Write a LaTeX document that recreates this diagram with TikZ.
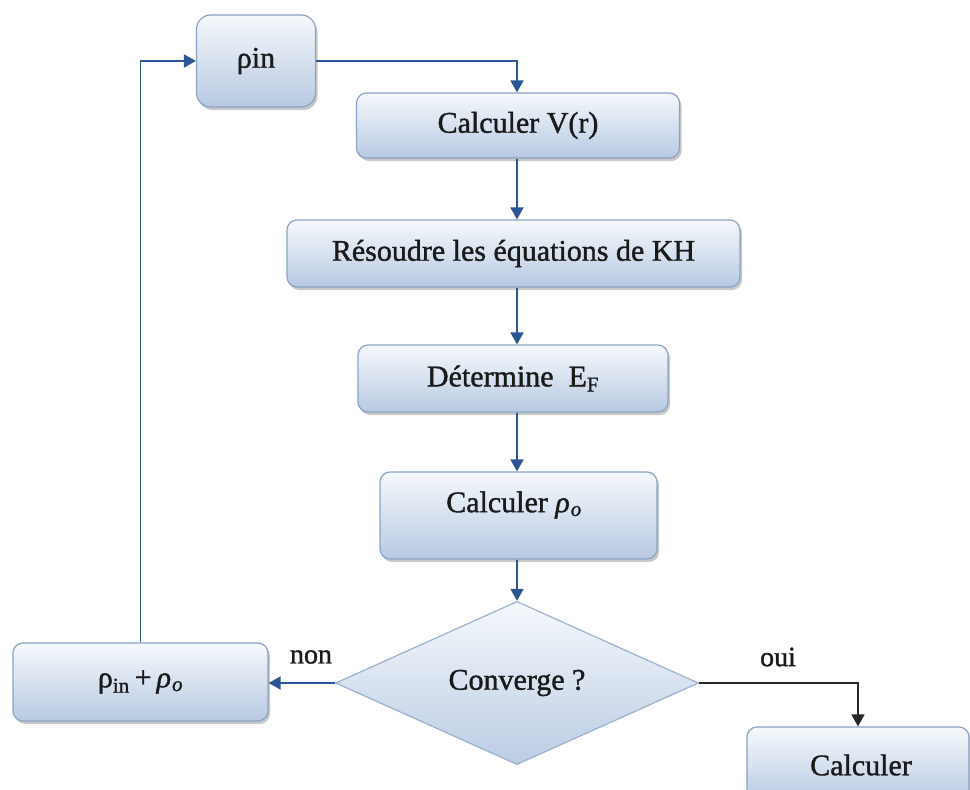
\documentclass[tikz,border=0pt]{standalone}
\usepackage{fontspec}
\setmainfont{Liberation Serif}
\newfontfamily\heavyserif{Liberation Serif}[FakeBold=1.2]
\usetikzlibrary{shapes.geometric,shadows,arrows.meta}

\definecolor{boxtop}{HTML}{F6F9FC}
\definecolor{boxbot}{HTML}{B7C9E2}
\definecolor{boxline}{HTML}{8BA3C4}
\definecolor{flow}{HTML}{2A5794}
\definecolor{ink}{HTML}{1A1A1A}

% italic rho with a subscript o
\newcommand{\rhoout}{\textit{ρ}\kern1pt\textsubscript{\textit{o}}}

\tikzset{
  stepbox/.style={rectangle, rounded corners=10pt, draw=boxline, line width=1.2pt,
    top color=boxtop, bottom color=boxbot,
    drop shadow={shadow xshift=2pt, shadow yshift=-3pt, opacity=0.35, fill=black!60},
    text=ink, font=\heavyserif\fontsize{30}{34}\selectfont, inner sep=0pt},
  decision/.style={diamond, draw=boxline!85, line width=1.2pt,
    top color=boxtop, bottom color=boxbot!95,
    text=ink, font=\heavyserif\fontsize{30}{34}\selectfont, inner sep=0pt},
  boxtext/.style={text=ink, font=\heavyserif\fontsize{30}{34}\selectfont},
  flowline/.style={draw=flow, line width=1.7pt, -{Triangle[length=12pt,width=13pt]}},
  yesline/.style={draw=black!85, line width=1.4pt, -{Triangle[length=12pt,width=13pt]}},
  branch/.style={text=ink, font=\heavyserif\fontsize{28}{32}\selectfont},
}

\begin{document}
\begin{tikzpicture}[x=1pt,y=-1pt]
\useasboundingbox[fill=white] (0,0) rectangle (970,790);

% column through which the main steps are chained
\coordinate (cx) at (517,0);

% main steps
\node[stepbox, rounded corners=14pt, minimum width=119pt, minimum height=92pt] (rin) at (256,61) {\raisebox{-3pt}{ρin}};
\node[stepbox, minimum width=323pt, minimum height=65pt] (vr) at (518,125.5) {Calculer V(r)};
\node[stepbox, minimum width=453pt, minimum height=67pt] (kh) at (513.5,253.5) {Résoudre les équations de KH};
\node[stepbox, minimum width=310pt, minimum height=67pt] (ef) at (513,378.5) {Détermine\ \ E\textsubscript{F}};
\node[stepbox, minimum width=277pt, minimum height=87pt] (ro) at (518.5,515.5) {};
\node[boxtext] (rotext) at (514,505) {Calculer \rhoout};

% convergence test
\node[decision, minimum width=363pt, minimum height=120pt] (cv) at (517,683) {Converge ?};

% mixing and final step
\node[stepbox, minimum width=255pt, minimum height=78pt] (mix) at (140.5,682) {ρ\textsubscript{in}\,+\,\rhoout};
\node[stepbox, minimum width=222pt, minimum height=76pt] (fin) at (858,765) {\hspace*{6pt}Calculer};

% chain of steps
\draw[flowline] (rin.east) -| (vr.north -| cx);
\draw[flowline] (vr.south -| cx) -- (kh.north -| cx);
\draw[flowline] (kh.south -| cx) -- (ef.north -| cx);
\draw[flowline] (ef.south -| cx) -- (ro.north -| cx);
\draw[flowline] (ro.south -| cx) -- (cv.north);

% branches of the test
\draw[flowline] (cv.west) -- (cv.west -| mix.east);
\draw[yesline] (cv.east) -| (fin.north);
\draw[flowline] (mix.north) |- (rin.west);

\node[branch] (non) at (311,657) {non};
\node[branch] (oui) at (778,657) {oui};
\end{tikzpicture}
\end{document}
